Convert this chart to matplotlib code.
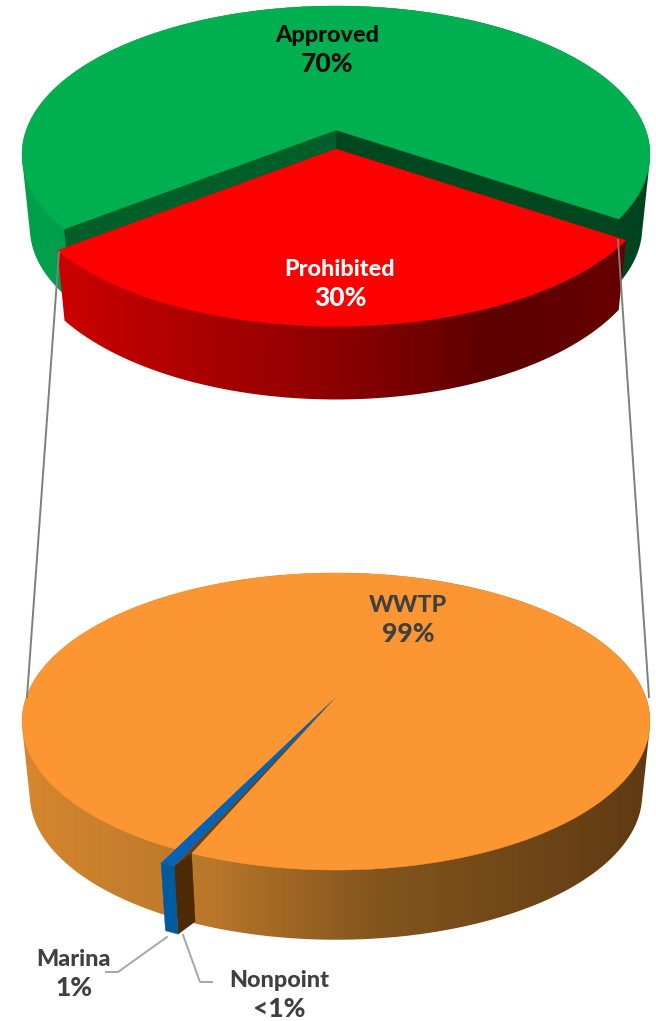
import numpy as np
import matplotlib
matplotlib.use("Agg")
import matplotlib.pyplot as plt
from matplotlib.colors import LinearSegmentedColormap
from matplotlib.patches import Polygon

# shares in percent, clockwise
top_labels = ["Approved", "Prohibited"]
top_shares = [70, 30]
top_text = ["70%", "30%"]
bottom_labels = ["WWTP", "Nonpoint", "Marina"]
bottom_shares = [99.2, 0.2, 0.6]
bottom_text = ["99%", "<1%", "1%"]

W, H = 656, 1021
fig = plt.figure(figsize=(W / 100, H / 100), dpi=100)
ax = fig.add_axes([0, 0, 1, 1])

CX, RX, RY, PERSP = 336, 309.7, 144.5, 0.165
FONT = ["Lato", "DejaVu Sans"]


def rim(theta, y0, r=1.0, drop=0.0, sx=1.0, sy=1.0):
    #perspective view of a circle, theta in degrees clockwise from the far side
    t = np.radians(theta)
    u, v = np.sin(t), np.cos(t)
    d = 1 + PERSP * v
    return CX + r * sx * RX * u / d, y0 + drop - r * sy * RY * v / d


def hull(points):
    #monotone chain, the band folds on itself so clip to its outline
    pts = sorted(set(map(tuple, points)))

    def half(seq):
        out = []
        for p in seq:
            while len(out) > 1 and (out[-1][0] - out[-2][0]) * (p[1] - out[-2][1]) - (out[-1][1] - out[-2][1]) * (p[0] - out[-2][0]) <= 0:
                out.pop()
            out.append(p)
        return out[:-1]

    return half(pts) + half(pts[::-1])


def side(t0, t1, y0, cmap, r=1.0, drop=74, sx=0.975, sy=0.975, z=1):
    #outer wall: a horizontal gradient clipped to the band between the two rims
    ts = np.linspace(t0, t1, 600)
    xa, ya = rim(ts, y0, r)
    xb, yb = rim(ts, y0, r, drop, sx, sy)
    pts = hull(np.vstack([np.column_stack([xa, ya]), np.column_stack([xb, yb])]))
    grad = (np.arange(W) + 0.5 - 22) / 628
    im = ax.imshow(grad[None, :], cmap=cmap, vmin=0, vmax=1, extent=(0, W, H, 0), aspect="auto", zorder=z)
    im.set_clip_path(Polygon(pts, closed=True, transform=ax.transData))


def top_face(t0, t1, y0, color, r=1.0, z=3):
    ts = np.linspace(t0, t1, 400)
    x, y = rim(ts, y0, r)
    pts = [(CX, y0)] + list(zip(x, y))
    ax.add_patch(Polygon(pts, closed=True, fc=color, ec=color, lw=0.3, zorder=z))


def wall(theta, y0, color, r=1.0, drop=74, sx=0.975, sy=0.975, z=2):
    x0, y1 = rim(theta, y0, r)
    x2, y2 = rim(theta, y0, r, drop, sx, sy)
    ax.add_patch(Polygon([(CX, y0), (x0, y1), (x2, y2), (CX, y0 + drop)], closed=True, fc=color, ec=color, lw=0.3, zorder=z))


green_side = LinearSegmentedColormap.from_list("g", ["#00a04c", "#009a48", "#00482a", "#00441f"])
red_side = LinearSegmentedColormap.from_list("r", [(0, "#d40000"), (0.5, "#8c0000"), (0.75, "#5c0000"), (1, "#680000")])
orange_side = LinearSegmentedColormap.from_list("o", [(0, "#d6862e"), (0.3, "#b9772a"), (0.55, "#85561e"), (1, "#5f3a12")])

# upper pie, prohibited slice pulled towards the viewer
top_start = 124
top_y, red_y = 130, 149
red_end = top_start + top_shares[1] * 3.6
side(red_end, top_start + 360, top_y, green_side, z=1)
wall(top_start, top_y, "#00471f")
wall(red_end, top_y, "#005f28")
top_face(red_end, top_start + 360, top_y, "#00b050", z=3)
side(top_start, red_end, red_y, red_side, r=1.025, drop=66, sx=0.975, sy=1.04, z=4)
top_face(top_start, red_end, red_y, "#ff0000", r=1.025, z=5)

# lower pie
low_y = 697
low_start = 206.2
orange_end = low_start + bottom_shares[0] * 3.6
nonpoint_end = orange_end + bottom_shares[1] * 3.6
marina_end = nonpoint_end + bottom_shares[2] * 3.6
side(low_start, orange_end, low_y, orange_side, z=1)
top_face(low_start, orange_end, low_y, "#fb9632", z=3)

# marina sliver sticks out past the rim, the brown wall sits beside it
R_MARINA = 1.09
xo, yo = rim(orange_end, low_y)
xob, yob = rim(orange_end, low_y, 1, 72, 0.975, 0.975)
xm0, ym0 = rim(nonpoint_end, low_y, R_MARINA)
xm1, ym1 = rim(marina_end, low_y, R_MARINA)
xm0b, ym0b = rim(nonpoint_end, low_y, R_MARINA, 72, 0.975, 0.975)
xm1b, ym1b = rim(marina_end, low_y, R_MARINA, 72, 0.975, 0.975)
ax.add_patch(Polygon([(CX, low_y), (xo, yo), (xm0, ym0)], closed=True, fc="#6b3f10", ec="none", zorder=4))
ax.add_patch(Polygon([(xo, yo), (xm0, ym0), (xm0b, ym0b), (xob, yob)], closed=True, fc="#4d2a06", ec="#4d2a06", lw=0.3, zorder=4))
ax.add_patch(Polygon([(CX, low_y), (xm0, ym0), (xm1, ym1)], closed=True, fc="#0563b5", ec="none", zorder=6))
ax.add_patch(Polygon([(xm0, ym0), (xm1, ym1), (xm1b, ym1b), (xm0b, ym0b)], closed=True, fc="#005a9e", ec="#005a9e", lw=0.3, zorder=5))

# series lines joining the two pies
ax.plot([59, 27], [252, 697], color="#7f7f7f", lw=1.4, zorder=7)
ax.plot([618, 649], [240, 697], color="#7f7f7f", lw=1.4, zorder=7)

# leader lines
ax.plot([167, 118, 106], [937, 972, 972], color="#a6a6a6", lw=1.4, zorder=2)
ax.plot([183, 200, 212], [935, 982, 982], color="#a6a6a6", lw=1.4, zorder=2)


def label(x, y, name, val, color):
    ax.text(x, y, name, ha="center", va="center", fontsize=16.8, fontweight=900, color=color, family=FONT, zorder=8)
    ax.text(x, y + 29, val, ha="center", va="center", fontsize=19, fontweight=900, color=color, family=FONT, zorder=8)


label(327, 35, top_labels[0], top_text[0], "#0a0a0a")
label(340, 269, top_labels[1], top_text[1], "#ffffff")
label(408, 605, bottom_labels[0], bottom_text[0], "#404040")
label(279, 980, bottom_labels[1], bottom_text[1], "#404040")
label(74, 959, bottom_labels[2], bottom_text[2], "#404040")

ax.set_xlim(0, W)
ax.set_ylim(H, 0)
ax.set_aspect("auto")
ax.axis("off")

fig.savefig("out.png", dpi=100, facecolor="white")
